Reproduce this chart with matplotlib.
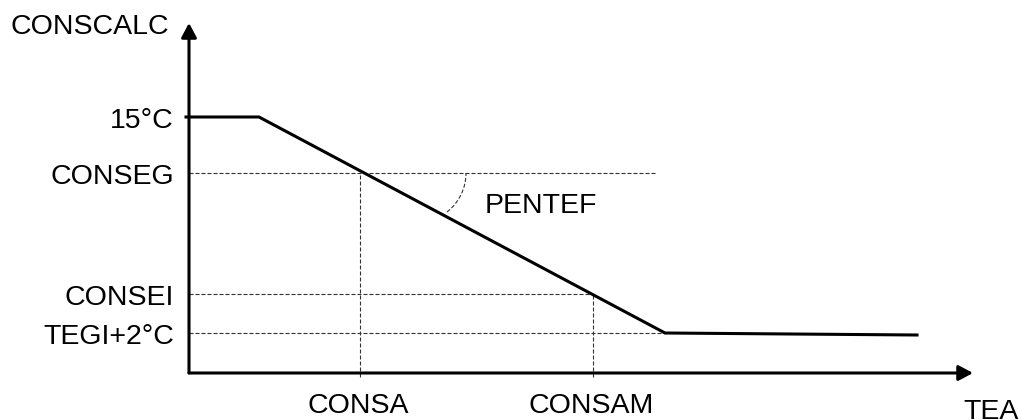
import numpy as np
import matplotlib
matplotlib.use("Agg")
import matplotlib.pyplot as plt
from matplotlib.patches import Arc

plt.rcParams['font.family'] = ['Liberation Sans', 'DejaVu Sans']

# schematic data (origin at axis crossing, arbitrary units)
curve_tea = [-3, 70, 476, 728]
curve_cons = [256, 256, 40, 38]

level_names = ['15°C', 'CONSEG', 'CONSEI', 'TEGI+2°C']
level_vals = [256, 200, 79, 40]
level_ends = [None, 467, 404, 476]   # how far the dotted guide goes

tea_names = ['CONSA', 'CONSAM']
tea_vals = [171, 404]
tea_tops = [200, 79]

fs = 20.5
fig = plt.figure(figsize=(10.2, 4.2), dpi=100)
ax = fig.add_axes([0, 0, 1, 1])
ax.set_xlim(-189, 831)
ax.set_ylim(-47, 373)
ax.axis('off')

# axes with arrows
arr = dict(arrowstyle='-|>,head_length=0.6,head_width=0.32', lw=2.2,
           color='black', shrinkA=0, shrinkB=0, mutation_scale=14.4)
ax.annotate('', xy=(0, 350), xytext=(0, 0), arrowprops=arr)
ax.annotate('', xy=(784, 0), xytext=(0, 0), arrowprops=arr)

# dotted guides
dash = dict(color='#333333', lw=0.8, dashes=(3.6, 1.8))
for v, e in zip(level_vals, level_ends):
    if e is not None:
        ax.plot([0, e], [v, v], **dash)
for t, top in zip(tea_vals, tea_tops):
    ax.plot([t, t], [-4, top], **dash)

# slope arc
ax.add_patch(Arc((227.5, 200), 99, 99, theta1=-52, theta2=0,
                 color='#333333', lw=0.8, linestyle=(0, (3.6, 1.8))))

# main curve
ax.plot(curve_tea, curve_cons, color='black', lw=2.2, solid_joinstyle='miter')

# labels
for name, v in zip(level_names, level_vals):
    ax.text(-15, v - 11, name, fontsize=fs, ha='right', va='baseline')
for name, t in zip(tea_names, tea_vals):
    ax.text(t - 2, -40, name, fontsize=fs, ha='center', va='baseline')
ax.text(-179, 339, 'CONSCALC', fontsize=fs, ha='left', va='baseline')
ax.text(296, 160, 'PENTEF', fontsize=fs, ha='left', va='baseline')
ax.text(774, -46, 'TEA', fontsize=fs, ha='left', va='baseline', clip_on=False)

fig.savefig('out.png', dpi=100, facecolor='white')
